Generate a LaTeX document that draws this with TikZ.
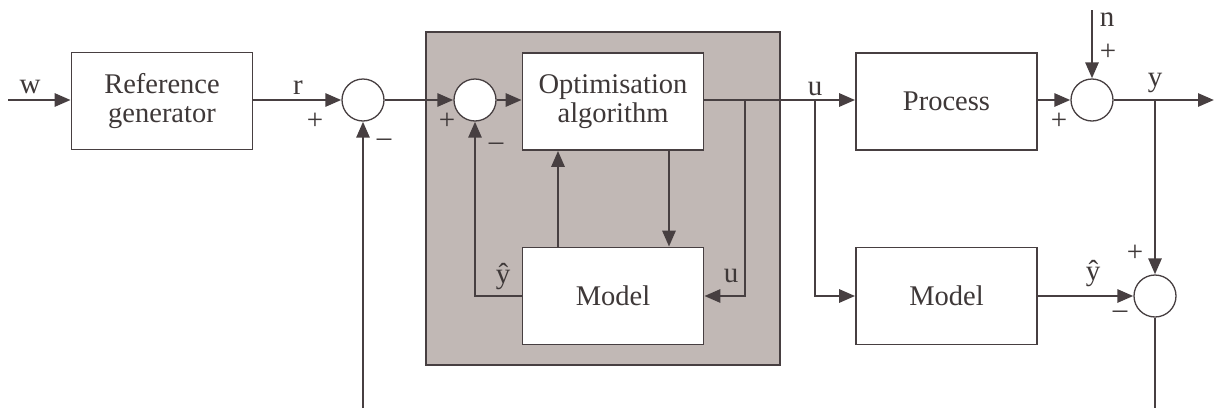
\documentclass[tikz,border=0pt]{standalone}
\usepackage{fontspec}
\setmainfont{Liberation Serif}
\usetikzlibrary{arrows.meta,calc}
\definecolor{ln}{HTML}{473F41}
\definecolor{shadefill}{HTML}{C1B8B5}
\definecolor{txt}{HTML}{3E3838}
\begin{document}
\begin{tikzpicture}[x=1pt,y=-1pt,
  block/.style={draw=ln, line width=1.7pt, fill=white, inner sep=0pt, align=center,
    minimum width=181pt, minimum height=97pt, text=txt, font=\fontsize{28.5}{30}\selectfont},
  sumnode/.style={circle, draw=ln, line width=1.3pt, fill=white, minimum size=42pt, inner sep=0pt},
  arr/.style={draw=ln, line width=2.8pt, -{Triangle[length=16pt,width=13pt]}},
  lbl/.style={text=txt, inner sep=0pt, font=\fontsize{29}{31}\selectfont}]
\useasboundingbox (0,0) rectangle (1216,410);
% shaded controller
\node[draw=ln, line width=1.5pt, fill=shadefill, minimum width=354pt, minimum height=333pt, inner sep=0pt] (ctrl) at (603,198.5) {};
% blocks
\node[block] (ref) at (162,101) {Reference\\[-1pt]generator};
\node[block] (opt) at (613,101.5) {Optimisation\\[-1pt]algorithm};
\node[block] (model) at (613,296) {Model};
\node[block] (proc) at (946.5,101.5) {Process};
\node[block] (model2) at (946.5,296) {Model};
% summing junctions
\node[sumnode] (s1) at (363,100) {};
\node[sumnode] (s2) at (475,100) {};
\node[sumnode] (s3) at (1092,100) {};
\node[sumnode] (s4) at (1155,296) {};
% free ends and branch points
\coordinate (win) at (8,100);
\coordinate (fb) at (363,408);
\coordinate (b1) at (745,100);
\coordinate (b2) at (815,100);
\coordinate (nin) at (1092,10);
\coordinate (yout) at (1214,100);
\coordinate (b3) at (1155,100);
\coordinate (end4) at (1155,408);
% connectors
\draw[arr] (win) -- (win -| ref.west);
\draw[arr] (ref.east |- s1) -- (s1.west);
\draw[arr] (fb) -- (s1.south);
\draw[arr] (s1.east) -- (s2.west);
\draw[arr] (s2.east) -- (s2 -| opt.west);
\draw[arr] (s2 -| opt.east) -- (s2 -| proc.west);
\draw[arr] (b1) |- (model.east);
\draw[arr] (b2) |- (model2.west);
\draw[arr] ([xshift=56pt]opt.south) -- ([xshift=56pt]model.north);
\draw[arr] ([xshift=-55pt]model.north) -- ([xshift=-55pt]opt.south);
\draw[arr] (model.west) -| (s2.south);
\draw[arr] (s3 -| proc.east) -- (s3.west);
\draw[arr] (nin) -- (s3.north);
\draw[arr] (s3.east) -- (yout);
\draw[arr] (b3) -- (s4.north);
\draw[arr] (model2.east |- s4) -- (s4.west);
\draw[draw=ln, line width=1.5pt] (s4.south) -- (end4);
% labels
\node[lbl] (lw) at (30,87) {w};
\node[lbl] (lr) at (298,88) {r};
\node[lbl] (p1) at (315,121) {+};
\node[lbl] (m1) at (384,143) {\textendash};
\node[lbl] (p2) at (447,121) {+};
\node[lbl] (m2) at (496,147) {\textendash};
\node[lbl] (lu1) at (815,89) {u};
\node[lbl] (lu2) at (731,276) {u};
\node[lbl] (lyh1) at (503,277) {ŷ};
\node[lbl] (ln) at (1107,20) {n};
\node[lbl] (p3) at (1108,52) {+};
\node[lbl] (p4) at (1059,121) {+};
\node[lbl] (ly) at (1155,83) {y};
\node[lbl] (p5) at (1135,253) {+};
\node[lbl] (m5) at (1120,315) {\textendash};
\node[lbl] (lyh2) at (1093,274) {ŷ};
\end{tikzpicture}
\end{document}
